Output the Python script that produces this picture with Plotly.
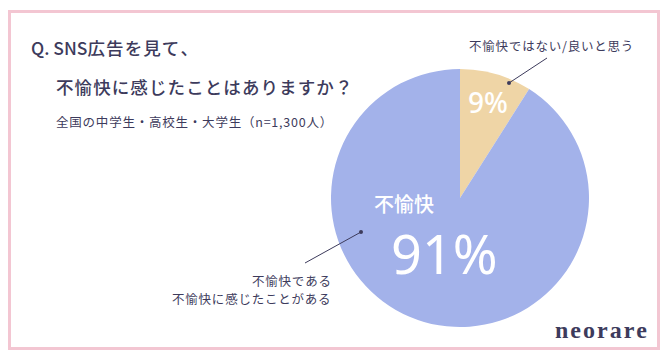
import plotly.graph_objects as go

labels = ["不愉快ではない/良いと思う", "不愉快である\n不愉快に感じたことがある"]
values = [9, 91]
colors = ["#EFD5A6", "#A3B2EA"]
pct_text = ["9%", "91%"]
title1 = "Q. SNS広告を見て、"
title2 = "不愉快に感じたことはありますか？"
subtitle = "全国の中学生・高校生・大学生（n=1,300人）"
brand = "neorare"

W, H = 664, 358
def px(x): return x / W
def py(y): return 1 - y / H

JP = "Noto Sans CJK JP"
DARK = "#3D3B5C"

def spaced(s, sep="\u200a"):
    return sep.join(list(s))

fig = go.Figure()
fig.add_trace(go.Pie(
    labels=labels, values=values, sort=False, direction="clockwise", rotation=0,
    marker=dict(colors=colors, line=dict(width=0)),
    textinfo="none", hoverinfo="skip", showlegend=False,
    domain=dict(x=[px(331), px(589)], y=[py(327), py(69)]),
))

ann = []
ann.append(dict(x=px(29), y=py(47), text=title1[:6] + spaced(title1[6:]), xanchor="left", yanchor="middle",
                font=dict(family=JP, size=17.5, color=DARK, weight=500)))
ann.append(dict(x=px(54), y=py(86), text=spaced(title2), xanchor="left", yanchor="middle",
                font=dict(family=JP, size=17.5, color=DARK, weight=500)))
ann.append(dict(x=px(54), y=py(122), text=spaced(subtitle), xanchor="left", yanchor="middle",
                font=dict(family=JP, size=12.5, color=DARK)))
ann.append(dict(x=px(551), y=py(45), text=spaced(labels[0]), xanchor="center", yanchor="middle",
                font=dict(family=JP, size=12.5, color=DARK)))
lines2 = labels[1].split("\n")
ann.append(dict(x=px(333), y=py(280), text=spaced(lines2[0]), xanchor="right", yanchor="middle",
                font=dict(family=JP, size=12.5, color=DARK)))
ann.append(dict(x=px(333), y=py(298), text=spaced(lines2[1]), xanchor="right", yanchor="middle",
                font=dict(family=JP, size=12.5, color=DARK)))
ann.append(dict(x=px(488), y=py(102), text=pct_text[0], xanchor="center", yanchor="middle",
                font=dict(family="Noto Sans", size=28, color="white", weight=500)))
ann.append(dict(x=px(404), y=py(203), text="不愉快", xanchor="center", yanchor="middle",
                font=dict(family=JP, size=20, color="white", weight=500)))
ann.append(dict(x=px(444), y=py(253), text=pct_text[1], xanchor="center", yanchor="middle",
                font=dict(family="Noto Sans", size=54, color="white", weight=400)))
ann.append(dict(x=px(649), y=py(330), text=spaced(brand), xanchor="right", yanchor="middle",
                font=dict(family="Liberation Serif", size=24, color=DARK, weight=700)))
for a in ann:
    a.update(xref="paper", yref="paper", showarrow=False)

shapes = [
    dict(type="rect", xref="paper", yref="paper", x0=px(9.5), x1=px(658.5), y0=py(348.5), y1=py(11.5),
         line=dict(color="#F3C6D2", width=3), layer="below"),
    dict(type="line", xref="paper", yref="paper", x0=px(547), y0=py(58), x1=px(509), y1=py(83),
         line=dict(color=DARK, width=1)),
    dict(type="circle", xref="paper", yref="paper", x0=px(507), x1=px(511), y0=py(85), y1=py(81),
         fillcolor=DARK, line=dict(width=0)),
    dict(type="line", xref="paper", yref="paper", x0=px(305), y0=py(263), x1=px(361), y1=py(232),
         line=dict(color=DARK, width=1)),
    dict(type="circle", xref="paper", yref="paper", x0=px(359), x1=px(363), y0=py(234), y1=py(230),
         fillcolor=DARK, line=dict(width=0)),
]

fig.update_layout(width=W, height=H, margin=dict(l=0, r=0, t=0, b=0),
                  paper_bgcolor="white", plot_bgcolor="white",
                  annotations=ann, shapes=shapes)
fig.write_html("out.html")
